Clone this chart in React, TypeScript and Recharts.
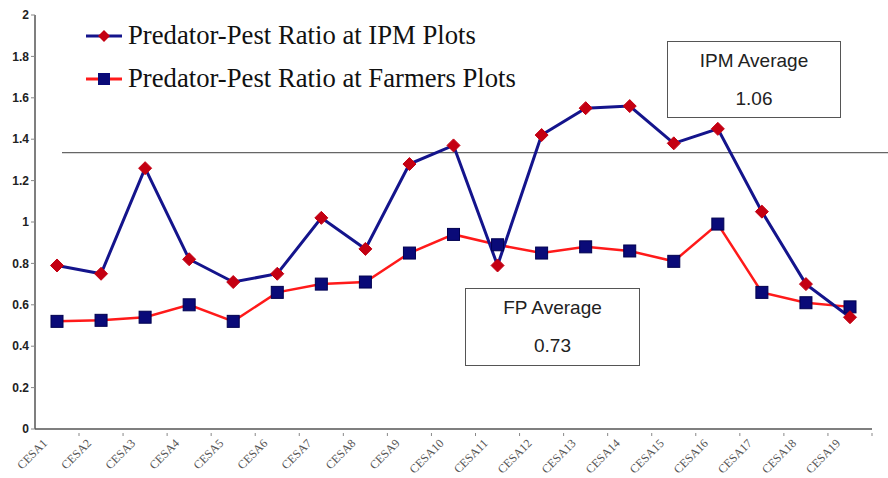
import React from "react";
import { LineChart, Line, XAxis, YAxis, ReferenceLine } from "recharts";

const categories = ["CESA1","CESA2","CESA3","CESA4","CESA5","CESA6","CESA7","CESA8","CESA9","CESA10","CESA11","CESA12","CESA13","CESA14","CESA15","CESA16","CESA17","CESA18","CESA19"];
const ipmValues = [0.79,0.75,1.26,0.82,0.71,0.75,1.02,0.87,1.28,1.37,0.79,1.42,1.55,1.56,1.38,1.45,1.05,0.70,0.54];
const fpValues = [0.52,0.525,0.54,0.60,0.52,0.66,0.70,0.71,0.85,0.94,0.89,0.85,0.88,0.86,0.81,0.99,0.66,0.61,0.59];
const yTicks = [0,0.2,0.4,0.6,0.8,1,1.2,1.4,1.6,1.8,2];
const dividerValue = 1.335;
const ipmLabel = "Predator-Pest Ratio at IPM Plots";
const fpLabel = "Predator-Pest Ratio at Farmers Plots";
const ipmAvgTitle = "IPM Average";
const ipmAvgValue = "1.06";
const fpAvgTitle = "FP Average";
const fpAvgValue = "0.73";

const data = categories.map((c, i) => ({ cat: c, ipm: ipmValues[i], fp: fpValues[i] }));

const IPM_LINE = "#14148c";
const IPM_MARK = "#c40012";
const FP_LINE = "#ff1a1a";
const FP_MARK = "#0a0a78";

const Diamond = (props: any) => {
  const { cx, cy } = props;
  if (cx == null || cy == null) return null;
  const r = 6.5;
  return <path d={`M${cx},${cy - r}L${cx + r},${cy}L${cx},${cy + r}L${cx - r},${cy}Z`} fill={IPM_MARK} stroke={IPM_MARK} strokeWidth={1} />;
};
const Square = (props: any) => {
  const { cx, cy } = props;
  if (cx == null || cy == null) return null;
  const h = 6;
  return <rect x={cx - h} y={cy - h} width={h * 2} height={h * 2} fill={FP_MARK} stroke="#000050" strokeWidth={1} />;
};

const XTick = (props: any) => {
  const { x, y, payload } = props;
  const tx = x - 12;
  const ty = y + 4;
  return (
    <g>
      <line x1={x + 22} y1={y - 4} x2={x + 22} y2={y - 1} stroke="#888" strokeWidth={1} />
      <text x={tx} y={ty} dy="0.35em" textAnchor="end"
        style={{ transform: "rotate(-45deg)", transformOrigin: `${tx}px ${ty}px`, transformBox: "view-box" } as any}
        fontFamily="'Liberation Serif', 'Times New Roman', serif" fontSize={12} fill="#555">
        {payload.value}
      </text>
    </g>
  );
};

const boxTextStyle: React.CSSProperties = {
  fontFamily: "'Liberation Sans', Arial, sans-serif",
  fontSize: 19,
  color: "#222",
  textAlign: "center",
  lineHeight: "38px",
  boxSizing: "border-box",
};

export default function App() {
  return (
    <div style={{ position: "absolute", left: 0, top: 0, width: 888, height: 478, background: "#fff" }}>
      <LineChart width={888} height={478} data={data} margin={{ top: 15, right: 16, bottom: 0, left: 0 }}>
        <XAxis dataKey="cat" padding={{ left: 22, right: 22 }} height={49} tick={<XTick />} tickLine={false}
          axisLine={{ stroke: "#555", strokeWidth: 1.5 }} interval={0} />
        <YAxis domain={[0, 2]} ticks={yTicks} width={35} tickSize={4} tickLine={{ stroke: "#888" }}
          axisLine={{ stroke: "#555", strokeWidth: 1.5 }}
          tick={{ fontFamily: "'Liberation Sans', Arial, sans-serif", fontSize: 12, fontWeight: "bold", fill: "#222" }} />
        <ReferenceLine y={dividerValue} ifOverflow="visible"
          shape={(p: any) => <line x1={p.x1 + 27} y1={p.y1} x2={p.x2 + 16} y2={p.y2} stroke="#666" strokeWidth={1.2} />} />
        <Line dataKey="fp" stroke={FP_LINE} strokeWidth={2.5} dot={<Square />} isAnimationActive={false} />
        <Line dataKey="ipm" stroke={IPM_LINE} strokeWidth={3} dot={<Diamond />} isAnimationActive={false} />
      </LineChart>
      <div style={{ position: "absolute", left: 86, top: 14, fontFamily: "'Liberation Serif', 'Times New Roman', serif", fontSize: 26.7, color: "#111", lineHeight: "43px", whiteSpace: "nowrap" }}>
        <div style={{ display: "flex", alignItems: "center" }}>
          <svg width={40} height={20} style={{ marginRight: 2 }}>
            <line x1={0} y1={10} x2={36} y2={10} stroke={IPM_LINE} strokeWidth={3} />
            <path d="M18,4L24,10L18,16L12,10Z" fill={IPM_MARK} />
          </svg>
          <span>{ipmLabel}</span>
        </div>
        <div style={{ display: "flex", alignItems: "center" }}>
          <svg width={40} height={20} style={{ marginRight: 2 }}>
            <line x1={0} y1={10} x2={36} y2={10} stroke={FP_LINE} strokeWidth={3} />
            <rect x={12} y={4} width={12} height={12} fill={FP_MARK} />
          </svg>
          <span>{fpLabel}</span>
        </div>
      </div>
      <div style={{ position: "absolute", left: 667, top: 41, width: 174, height: 77, border: "1.5px solid #555", ...boxTextStyle }}>
        <div>{ipmAvgTitle}</div>
        <div>{ipmAvgValue}</div>
      </div>
      <div style={{ position: "absolute", left: 465, top: 288, width: 175, height: 78, border: "1.5px solid #555", ...boxTextStyle }}>
        <div>{fpAvgTitle}</div>
        <div>{fpAvgValue}</div>
      </div>
    </div>
  );
}
